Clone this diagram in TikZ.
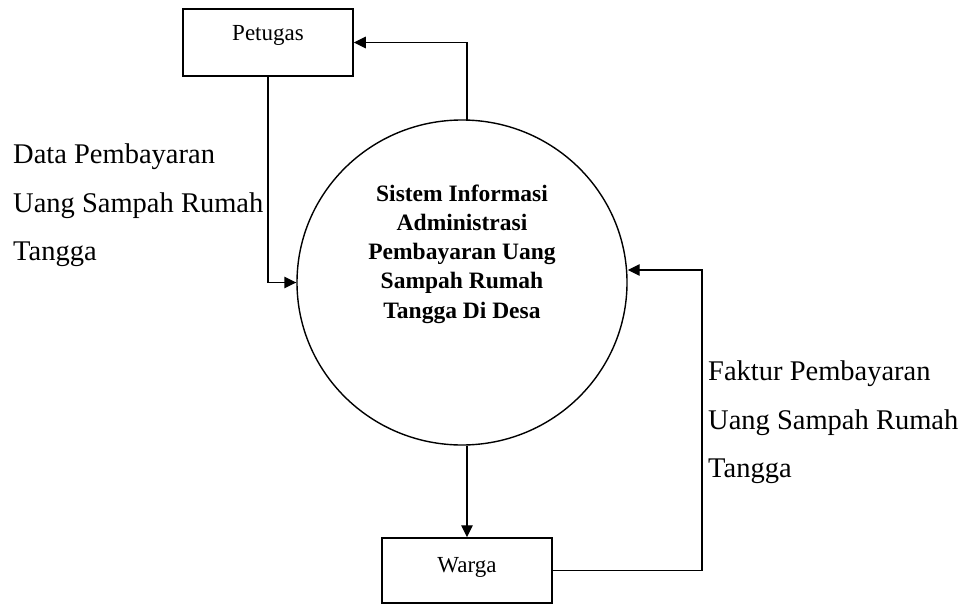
\documentclass[tikz,border=0pt]{standalone}
\usepackage{fontspec}
\setmainfont{Liberation Serif}
\usetikzlibrary{arrows.meta,shapes.geometric,calc}
\begin{document}
\begin{tikzpicture}[x=1pt,y=-1pt,
  ln/.style={line width=1.4pt,draw=black},
  arr/.style={ln,-{Triangle[length=12pt,width=11.5pt]}},
  entity/.style={draw,line width=1.5pt,minimum width=170pt,inner sep=0pt,font=\fontsize{23}{28}\selectfont},
  lbl/.style={align=left,inner sep=0pt,anchor=north west,font=\fontsize{28.5}{48.5}\selectfont}
]
\useasboundingbox (0,0) rectangle (968,604);
\node[entity,minimum height=67pt,text height=16pt,text depth=20pt] (p) at (268,42.5) {Petugas};
\node[entity,minimum height=65pt,text height=16pt,text depth=13pt] (w) at (467,570.5) {Warga};
\node[draw,ellipse,line width=1.4pt,minimum width=330pt,minimum height=325pt,inner sep=0pt] (c) at (462,282.5) {};
\node[align=center,inner sep=0pt,font=\fontsize{23.5}{29.3}\selectfont\bfseries] (ct) at (462,254)
  {Sistem Informasi\\Administrasi\\Pembayaran Uang\\Sampah Rumah\\Tangga Di Desa};
\node[lbl] (ld) at (13,144) {Data Pembayaran\\Uang Sampah Rumah\\Tangga};
\node[lbl] (lf) at (708,361) {Faktur Pembayaran\\Uang Sampah Rumah\\Tangga};
\coordinate (ctop) at (467,120);
\coordinate (fr) at (702,270);
% connectors
\draw[arr] (ctop) |- (p.east);
\draw[arr] (p.south) |- (c.west);
\draw[arr] (c.south -| w.north) -- (w.north);
\draw[arr] (w.east) -| (fr) -- (fr -| c.east);
\end{tikzpicture}
\end{document}
